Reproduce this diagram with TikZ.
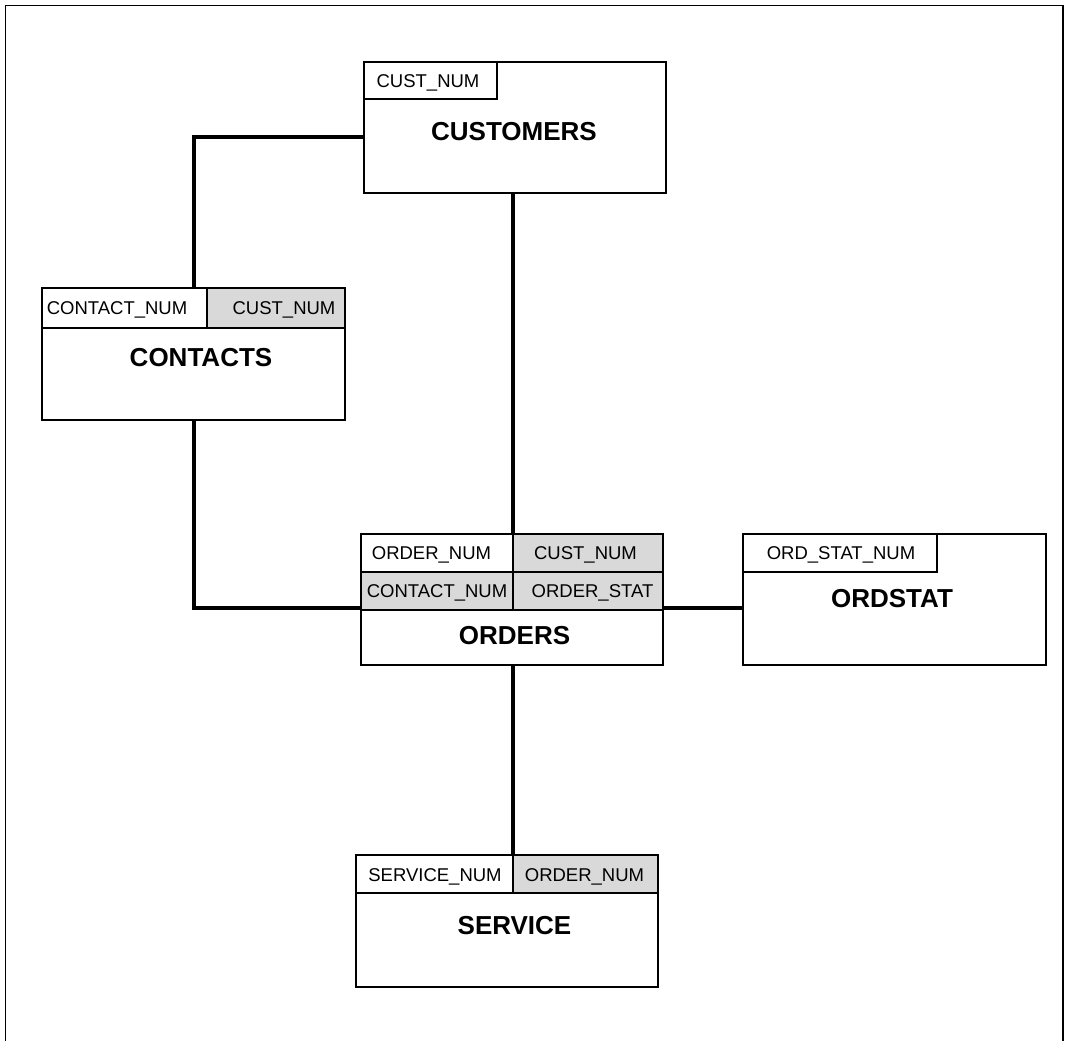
\documentclass[tikz,border=0pt]{standalone}
\usepackage{fontspec}
\setmainfont{Liberation Sans}
\begin{document}
\begin{tikzpicture}[x=1pt,y=-1pt,
  frame/.style={line width=1.5pt},
  tbl/.style={draw, line width=1.2pt, rectangle, inner sep=0pt, outer sep=0pt},
  keycell/.style={draw, line width=1.2pt, rectangle, inner sep=0pt, outer sep=0pt, fill=white},
  fkcell/.style={keycell, fill=gray!30},
  field/.style={inner sep=0pt, font=\fontsize{18.5}{20}\selectfont, text height=13.2pt, text depth=0pt},
  title/.style={inner sep=0pt, font=\fontsize{26}{30}\selectfont\bfseries, text height=18.6pt, text depth=0pt},
  link/.style={line width=4pt}]
\useasboundingbox (0,0) rectangle (1068,1041);

% open frame round the schema
\draw[frame] (5.5,1041) -- (5.5,5.5) -- (1063,5.5) -- (1063,1041);

% CUSTOMERS
\node[tbl, minimum width=302, minimum height=131] (customers) at (515,127.5) {};
\node[keycell, minimum width=133, minimum height=37, anchor=north west] (custkey) at (customers.north west) {};
\node[field] (custkeyt) at (428,80.5) {CUST\_NUM};
\node[title] (custt) at (514,131) {CUSTOMERS};

% CONTACTS
\node[tbl, minimum width=303, minimum height=132] (contacts) at (193.5,354) {};
\node[keycell, minimum width=165, minimum height=40, anchor=north west] (contkey) at (contacts.north west) {};
\node[fkcell, minimum width=138, minimum height=40, anchor=north west] (contfk) at (contkey.north east) {};
\node[field] (contkeyt) at (117,308) {CONTACT\_NUM};
\node[field] (contfkt) at (284,308) {CUST\_NUM};
\node[title] (contt) at (201,357) {CONTACTS};

% ORDERS
\node[tbl, minimum width=302, minimum height=131] (orders) at (512,599.5) {};
\node[keycell, minimum width=152, minimum height=38, anchor=north west] (ordkey) at (orders.north west) {};
\node[fkcell, minimum width=150, minimum height=38, anchor=north west] (ordcust) at (ordkey.north east) {};
\node[fkcell, minimum width=152, minimum height=38, anchor=north west] (ordcont) at (ordkey.south west) {};
\node[fkcell, minimum width=150, minimum height=38, anchor=north west] (ordstatfk) at (ordcont.north east) {};
\node[field] (ordkeyt) at (431.5,553) {ORDER\_NUM};
\node[field] (ordcustt) at (585.5,553) {CUST\_NUM};
\node[field] (ordcontt) at (437,591) {CONTACT\_NUM};
\node[field] (ordstatfkt) at (592.5,591) {ORDER\_STAT};
\node[title] (ordt) at (514.5,635) {ORDERS};

% ORDSTAT
\node[tbl, minimum width=303, minimum height=131] (ordstat) at (894.5,599.5) {};
\node[keycell, minimum width=194, minimum height=38, anchor=north west] (oskey) at (ordstat.north west) {};
\node[field] (oskeyt) at (841,553) {ORD\_STAT\_NUM};
\node[title] (ost) at (892,598) {ORDSTAT};

% SERVICE
\node[tbl, minimum width=302, minimum height=132] (service) at (507,921) {};
\node[keycell, minimum width=157, minimum height=38, anchor=north west] (svckey) at (service.north west) {};
\node[fkcell, minimum width=145, minimum height=38, anchor=north west] (svcord) at (svckey.north east) {};
\node[field] (svckeyt) at (435,875) {SERVICE\_NUM};
\node[field] (svcordt) at (584.5,875) {ORDER\_NUM};
\node[title] (svct) at (514.5,925) {SERVICE};

% relationships
\draw[link] ([yshift=-9.5pt]customers.west) -| (contacts.north);
\draw[link] (customers.south -| ordkey.north east) -- (ordkey.north east);
\draw[link] (contacts.south) |- ([yshift=-8.5pt]orders.west);
\draw[link] ([yshift=-8.5pt]orders.east) -- ([yshift=-8.5pt]ordstat.west);
\draw[link] (orders.south -| svckey.north east) -- (svckey.north east);
\end{tikzpicture}
\end{document}
